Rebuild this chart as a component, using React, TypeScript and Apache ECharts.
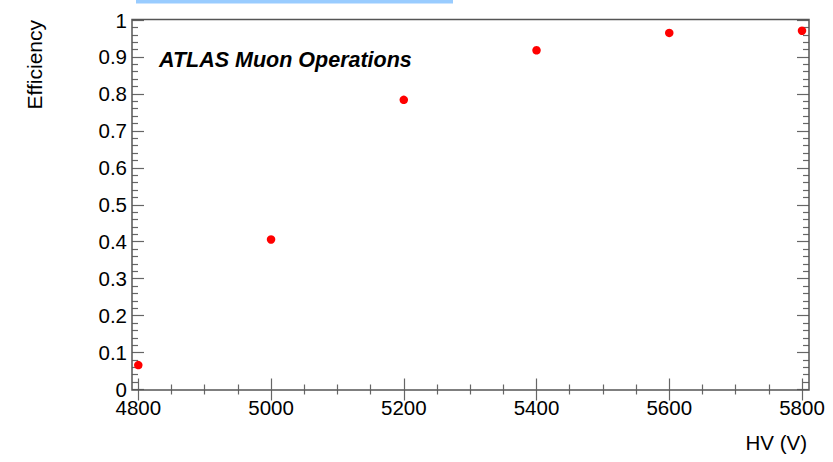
import React, { useEffect, useRef } from "react";
import * as echarts from "echarts";

const hvValues = [4800, 5000, 5200, 5400, 5600, 5800];
const efficiency = [0.066, 0.406, 0.784, 0.918, 0.965, 0.971];
const xTitle = "HV (V)";
const yTitle = "Efficiency";
const stamp = "ATLAS Muon Operations";

const FONT = "'Liberation Sans', Arial, Helvetica, sans-serif";

export default function App() {
  const ref = useRef<HTMLDivElement>(null);
  useEffect(() => {
    if (!ref.current) return;
    const chart = echarts.init(ref.current, undefined, { renderer: "svg" });
    const tickColor = "#666";
    const labelStyle = { color: "#000", fontSize: 20.5, fontFamily: FONT };
    const xCommon = {
      type: "value" as const,
      min: 4800,
      max: 5800,
      interval: 200,
      axisLine: { show: false },
      splitLine: { show: false },
      axisTick: { show: true, inside: true, length: 11, lineStyle: { color: tickColor, width: 1.2 } },
      minorTick: { show: true, splitNumber: 4, length: 5, lineStyle: { color: tickColor, width: 1.2 } },
    };
    const yCommon = {
      type: "value" as const,
      min: 0,
      max: 1,
      interval: 0.1,
      axisLine: { show: false },
      splitLine: { show: false },
      axisTick: { show: true, inside: true, length: 12, lineStyle: { color: tickColor, width: 1.2 } },
      minorTick: { show: true, splitNumber: 5, length: 6, lineStyle: { color: tickColor, width: 1.2 } },
    };
    chart.setOption({
      animation: false,
      grid: { left: 138.3, right: 31, top: 20, bottom: 72.5, containLabel: false },
      xAxis: [
        {
          ...xCommon,
          position: "bottom",
          axisLabel: { ...labelStyle, margin: 7, formatter: (v: number) => String(v) },
        },
        { ...xCommon, position: "top", axisLabel: { show: false } },
      ],
      yAxis: [
        {
          ...yCommon,
          position: "left",
          offset: 6.3,
          axisLabel: { ...labelStyle, margin: 5, formatter: (v: number) => (v === 0 ? "0" : v === 1 ? "1" : v.toFixed(1)) },
        },
        { ...yCommon, position: "right", offset: 7, axisLabel: { show: false } },
      ],
      series: [
        {
          type: "scatter",
          xAxisIndex: 0,
          yAxisIndex: 0,
          symbol: "circle",
          symbolSize: 8.5,
          itemStyle: { color: "#ff0000", opacity: 1 },
          data: hvValues.map((v, i) => [v, efficiency[i]]),
          z: 5,
        },
      ],
      graphic: [
        {
          type: "rect",
          shape: { x: 132, y: 19.5, width: 677, height: 370.5 },
          style: { fill: "none", stroke: "#555", lineWidth: 1.5 },
          z: 1,
        },
        {
          type: "rect",
          shape: { x: 136, y: 0, width: 317, height: 3.5 },
          style: { fill: "#99ccff" },
          z: 1,
        },
        {
          type: "text",
          x: 159,
          y: 60,
          style: {
            text: stamp,
            font: `italic bold 21.5px ${FONT}`,
            fill: "#000",
            align: "left",
            verticalAlign: "middle",
          },
        },
        {
          type: "text",
          x: 807,
          y: 442,
          style: {
            text: xTitle,
            font: `20.5px ${FONT}`,
            fill: "#000",
            align: "right",
            verticalAlign: "middle",
          },
        },
        {
          type: "text",
          x: 34,
          y: 20,
          rotation: Math.PI / 2,
          style: {
            text: yTitle,
            font: `21px ${FONT}`,
            fill: "#000",
            align: "right",
            verticalAlign: "middle",
          },
        },
      ],
    });
    return () => chart.dispose();
  }, []);
  return (
    <div
      ref={ref}
      style={{ position: "absolute", left: 0, top: 0, width: 833, height: 462, background: "#fff" }}
    />
  );
}
